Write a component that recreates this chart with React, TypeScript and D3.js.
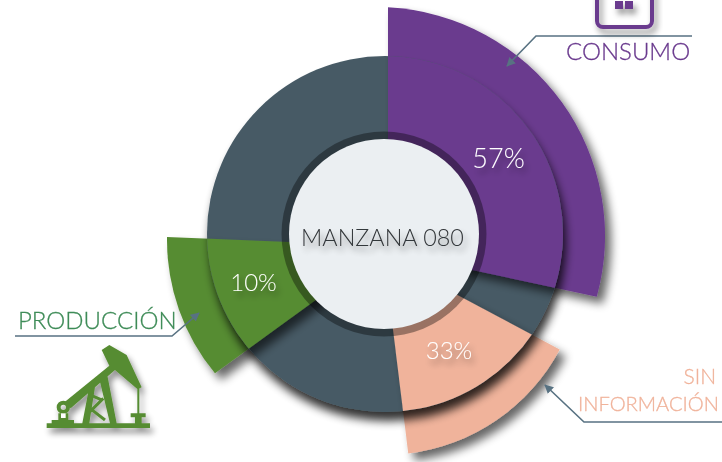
import React from "react";
import * as d3 from "d3";

const categories = ["CONSUMO", "PRODUCCIÓN", "SIN INFORMACIÓN"];
const percentLabels = ["57%", "10%", "33%"];
const centerLabel = "MANZANA 080";
const sliceColors = ["#6a3a8e", "#578c33", "#f0b39b"];
// sector edges, degrees clockwise from 12 o'clock
const startAngles = [3, 230.4, 118];
const endAngles = [105.4, 270.8, 173];
const outerRadii = [229, 209, 199];
const arcCentersX = [376, 376, 384];
const arcCentersY = [236, 240, 256];
const apexX = [388, 390, 384];
const apexY = [252, 246, 256];

const DEG = Math.PI / 180;
const scaleAngle = d3.scaleLinear().domain([0, 360]).range([-90 * DEG, 270 * DEG]);

function wedge(i: number) {
  const p = d3.path();
  const a0 = scaleAngle(startAngles[i]);
  const a1 = scaleAngle(endAngles[i]);
  p.moveTo(apexX[i], apexY[i]);
  p.lineTo(arcCentersX[i] + outerRadii[i] * Math.cos(a0), arcCentersY[i] + outerRadii[i] * Math.sin(a0));
  p.arc(arcCentersX[i], arcCentersY[i], outerRadii[i], a0, a1);
  p.closePath();
  return p.toString();
}

const GRAY = "#465a65";
const jackFill =
  "M140 370H155V360H175V340H205V360H222V370H450V384H140Z" +
  "M195 305L328 197L305 150L328 135L380 165L425 262L413 268L345 210L212 325Z" +
  "M247 370L266 270L285 262L268 370Z" +
  "M300 245L322 226L350 370H330Z" +
  "M392 340H437V352H425V372H405V352H392Z" +
  "M412 264H418V342H412Z";
const jackBraces = [
  [270, 285, 305, 300],
  [270, 335, 310, 295],
  [270, 325, 315, 360],
];

export default function App() {
  return (
    <svg width={722} height={462} style={{ position: "fixed", left: 0, top: 0, background: "#fff" }}>
      <defs>
        <filter id="ds" x="-30%" y="-30%" width="170%" height="170%">
          <feGaussianBlur in="SourceAlpha" stdDeviation="5" />
          <feOffset dx="6" dy="7" />
          <feComponentTransfer><feFuncA type="linear" slope="0.6" /></feComponentTransfer>
          <feMerge><feMergeNode /><feMergeNode in="SourceGraphic" /></feMerge>
        </filter>
        <filter id="disc-shadow" x="-30%" y="-30%" width="170%" height="170%">
          <feGaussianBlur in="SourceAlpha" stdDeviation="5" />
          <feOffset dx="3" dy="9" />
          <feComponentTransfer><feFuncA type="linear" slope="0.8" /></feComponentTransfer>
          <feMerge><feMergeNode /><feMergeNode in="SourceGraphic" /></feMerge>
        </filter>
        <filter id="ts" x="-20%" y="-50%" width="140%" height="220%">
          <feGaussianBlur in="SourceAlpha" stdDeviation="3" />
          <feOffset dx="3" dy="5" />
          <feComponentTransfer><feFuncA type="linear" slope="0.45" /></feComponentTransfer>
          <feMerge><feMergeNode /><feMergeNode in="SourceGraphic" /></feMerge>
        </filter>
        <filter id="plain" x="-5%" y="-5%" width="110%" height="110%"><feOffset dx="0" dy="0" /></filter>
        <clipPath id="disc"><circle cx={385} cy={234} r={178} /></clipPath>
        <marker id="arrow" viewBox="0 0 10 10" refX="9" refY="5" markerWidth="9" markerHeight="9" markerUnits="userSpaceOnUse" orient="auto">
          <path d="M0 0L10 5L0 10Z" fill="#587282" />
        </marker>
      </defs>

      {categories.map((c, i) => (
        <path key={c} d={wedge(i)} fill={sliceColors[i]} filter="url(#ds)" />
      ))}

      <circle cx={385} cy={234} r={178} fill={GRAY} filter="url(#disc-shadow)" />

      <g clipPath="url(#disc)">
        {categories.map((c, i) => (
          <path key={c} d={wedge(i)} fill={sliceColors[i]} filter="url(#ds)" />
        ))}
      </g>

      <circle cx={384} cy={234} r={102.5} fill="#000" fillOpacity={0.36} />
      <circle cx={384} cy={234} r={95} fill="#ebeff2" />
      <text x={382.5} y={246} textAnchor="middle" fontFamily="Lato" fontWeight={300} fontSize={23.4} fill="#33373a" filter="url(#ts)">{centerLabel}</text>

      <g fontFamily="Lato" fontWeight={300} fill="#fff" filter="url(#ts)" textAnchor="middle">
        <text x={498.5} y={168} fontSize={27}>{percentLabels[0]}</text>
        <text x={253.5} y={291} fontSize={24}>{percentLabels[1]}</text>
        <text x={449} y={359} fontSize={24}>{percentLabels[2]}</text>
      </g>

      <g fill="none" stroke="#587282" strokeWidth={1.6}>
        <polyline points="692,36 536,36 507,66" markerEnd="url(#arrow)" />
        <polyline points="15,336 172,336 199,313" markerEnd="url(#arrow)" />
        <polyline points="722,422 584,422 545,385" markerEnd="url(#arrow)" />
      </g>

      <g filter="url(#plain)" fontFamily="Lato" fontWeight={300} fontSize={24} strokeWidth={0.3}>
        <text x={566} y={60} fill={sliceColors[0]} stroke={sliceColors[0]}>{categories[0]}</text>
        <text x={18} y={329} fill="#3f8c58" stroke="#3f8c58">{categories[1]}</text>
      </g>
      <g filter="url(#plain)" fontFamily="Lato" fontWeight={300} fontSize={21} fill={sliceColors[2]} stroke={sliceColors[2]} strokeWidth={0.3} textAnchor="end">
        <text x={716} y={384}>SIN</text>
        <text x={719} y={410.5} textLength={141} lengthAdjust="spacingAndGlyphs" style={{ fontSize: 20.2 }}>INFORMACIÓN</text>
      </g>

      <g filter="url(#ts)">
        <g transform="translate(0,300) scale(0.3333)">
          <path d={jackFill} fill={sliceColors[1]} />
          {jackBraces.map((b, i) => (
            <line key={i} x1={b[0]} y1={b[1]} x2={b[2]} y2={b[3]} stroke={sliceColors[1]} strokeWidth={9} />
          ))}
          <circle cx={190} cy={322} r={14} fill="none" stroke={sliceColors[1]} strokeWidth={12} />
          <rect x={183} y={340} width={14} height={14} fill="#fff" />
        </g>
      </g>
      <g filter="url(#ts)">
        <rect x={597} y={-40} width={55} height={67} rx={6} fill="none" stroke={sliceColors[0]} strokeWidth={4} />
        <rect x={615} y={1} width={8} height={8} fill={sliceColors[0]} />
        <rect x={625} y={1} width={8} height={8} fill={sliceColors[0]} />
      </g>
    </svg>
  );
}
